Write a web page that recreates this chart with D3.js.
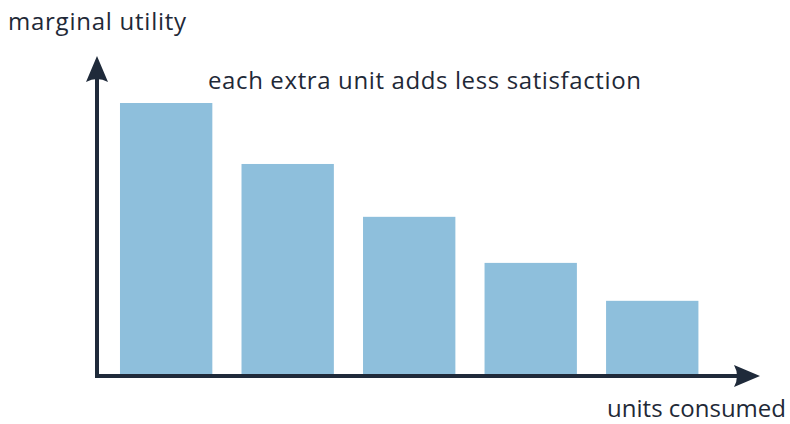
<!DOCTYPE html>
<html>
<head>
<meta charset="utf-8">
<script src="https://cdn.jsdelivr.net/npm/d3@7"></script>
<style>
  body { margin: 0; background: #fff; }
  text { font-family: "Open Sans", Lato, sans-serif; fill: #1f2937; font-size: 24px; }
</style>
</head>
<body>
<svg width="790" height="424"></svg>
<script>
let units = ['1', '2', '3', '4', '5'];
let utility = [10, 7.75, 5.8, 4.1, 2.7];
let yLabel = 'marginal utility', xLabel = 'units consumed',
    note = 'each extra unit adds less satisfaction';

let width = 790, height = 424;
let ink = '#1f2a3a', barColor = '#8ebfdc';
let svg = d3.select('svg');

let x = d3.scaleBand()
  .domain(units)
  .range([105.4, 713])
  .paddingInner(0.24)
  .paddingOuter(0.12);

let y = d3.scaleLinear()
  .domain([0, 10])
  .range([374, 103]);

svg.selectAll('rect')
  .data(utility)
  .join('rect')
  .attr('x', function(d, i) { return x(units[i]); })
  .attr('y', function(d) { return y(d); })
  .attr('width', x.bandwidth())
  .attr('height', function(d) { return y(0) - y(d); })
  .style('fill', barColor);

// axes with arrow heads
let ox = 97, oy = 376;
svg.append('path')
  .attr('d', 'M' + ox + ',' + oy + 'V70 M' + (ox - 2) + ',' + oy + 'H748')
  .style('stroke', ink).style('stroke-width', 4).style('fill', 'none');

function arrow(tx, ty, angle) {
  svg.append('path')
    .attr('d', 'M0,0 L-26,-11 Q-20,0 -26,11 Z')
    .attr('transform', 'translate(' + tx + ',' + ty + ') rotate(' + angle + ')')
    .style('fill', ink);
}
arrow(ox, 56, -90);
arrow(760, oy, 0);

svg.append('text').attr('x', 8).attr('y', 30).style('letter-spacing', '0.75px').text(yLabel);
svg.append('text').attr('x', 208).attr('y', 89).style('letter-spacing', '0.62px').text(note);
svg.append('text').attr('x', 786).attr('y', 417).attr('text-anchor', 'end').text(xLabel);
</script>
</body>
</html>
